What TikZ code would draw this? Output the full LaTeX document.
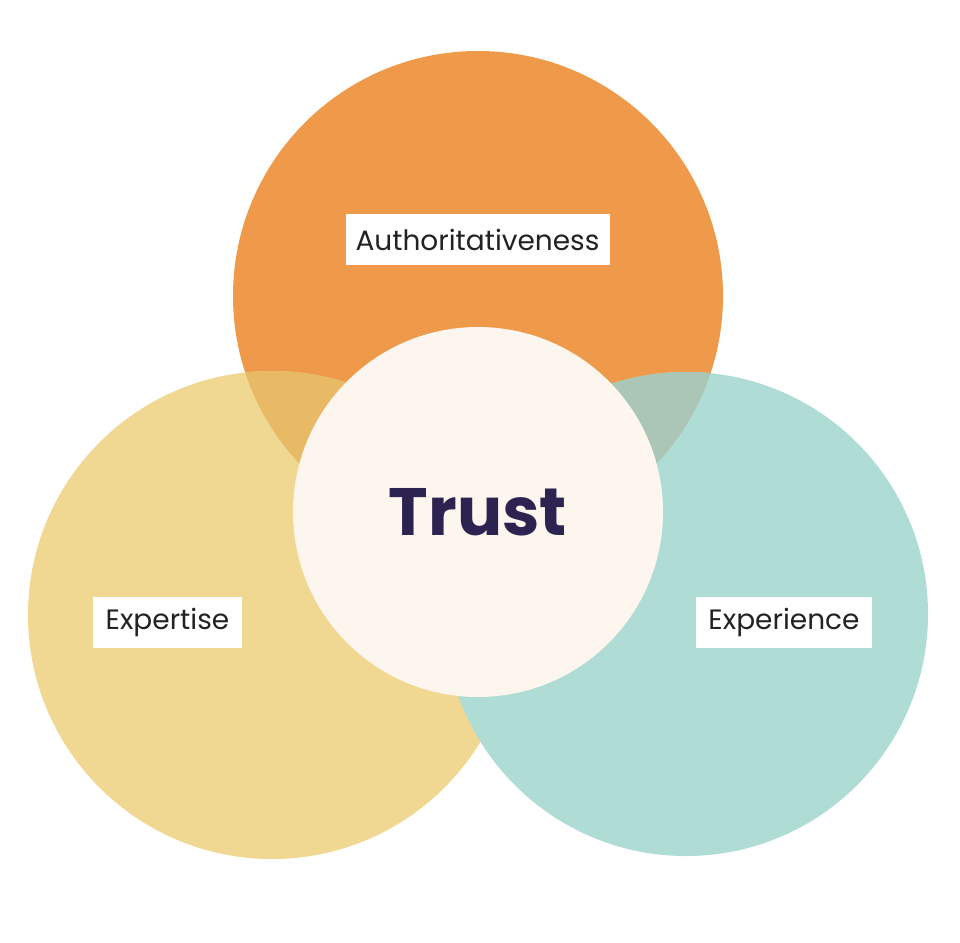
\documentclass[tikz,border=0pt]{standalone}
\usepackage{fontspec}
\setmainfont{Poppins}
\definecolor{corange}{HTML}{EF9A4A}
\definecolor{cyellow}{HTML}{F1D892}
\definecolor{cteal}{HTML}{B0DCD6}
\definecolor{coy}{HTML}{E9BA66}
\definecolor{cot}{HTML}{ABC6B6}
\definecolor{ccream}{HTML}{FCF6EE}
\definecolor{ctrust}{HTML}{2D2350}
\definecolor{clabel}{HTML}{222222}
\begin{document}
\begin{tikzpicture}[x=1pt,y=-1pt,
  labelbox/.style={fill=white, inner sep=0pt, minimum height=51pt, text=clabel,
    font=\fontsize{28}{32}\selectfont},
  trustnode/.style={circle, fill=ccream, inner sep=0pt, minimum size=370pt, text=ctrust,
    font=\fontsize{67}{70}\selectfont\bfseries}]
\useasboundingbox[fill=white] (0,0) rectangle (960,942);
\def\orangecirc{(478,296) circle (245)}
\def\yellowcirc{(272,615) circle (244)}
\def\tealcirc{(686,614) circle (242)}
\fill[corange] \orangecirc;
\fill[cyellow] \yellowcirc;
\fill[cteal] \tealcirc;
\begin{scope}
  \clip \orangecirc;
  \fill[coy] \yellowcirc;
  \fill[cot] \tealcirc;
\end{scope}
\node[trustnode] (trust) at (478,512) {Trust};
\node[labelbox, minimum width=264pt] (auth) at (477.5,239.5) {Authoritativeness};
\node[labelbox, minimum width=149pt] (expertise) at (167.5,622.5) {Expertise};
\node[labelbox, minimum width=176pt] (experience) at (784,622.5) {Experience};
\end{tikzpicture}
\end{document}
